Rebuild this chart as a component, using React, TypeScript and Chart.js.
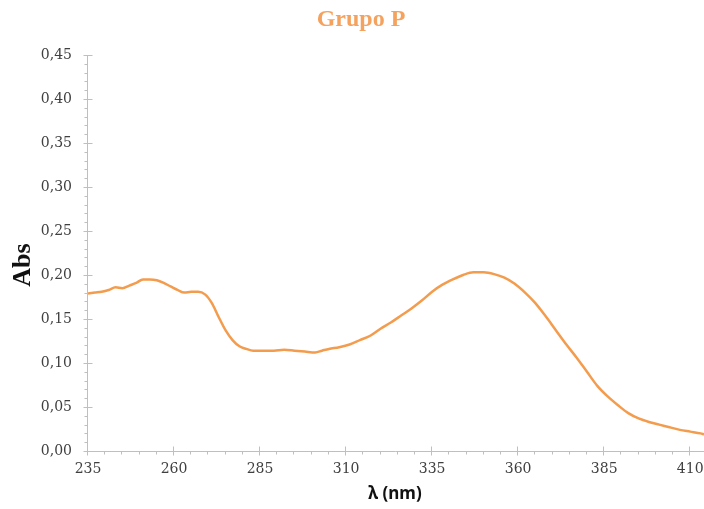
import React, { useEffect, useRef } from "react";
import { Chart, registerables } from "chart.js";

Chart.register(...registerables);

const chartTitle = "Grupo P";
const xTitle = "λ (nm)";
const yTitle = "Abs";

const wavelengths = [
  235, 237, 239, 241, 243, 245, 247, 249, 251, 253, 255, 257, 259, 261, 263, 265, 267, 269,
  271, 273, 275, 277, 279, 281, 283, 286, 289, 292, 295, 298, 301, 303, 305, 308, 311, 314,
  317, 320, 323, 326, 329, 332, 335, 338, 341, 344, 347, 350, 353, 356, 359, 362, 365, 368,
  371, 374, 377, 380, 383, 386, 389, 392, 395, 398, 401, 404, 407, 410, 413, 414,
];
const absorbance = [
  0.179, 0.18, 0.181, 0.183, 0.186, 0.185, 0.188, 0.191, 0.195, 0.195, 0.194, 0.191, 0.187,
  0.183, 0.18, 0.181, 0.181, 0.178, 0.168, 0.152, 0.137, 0.126, 0.119, 0.116, 0.114, 0.114,
  0.114, 0.115, 0.114, 0.113, 0.112, 0.114, 0.116, 0.118, 0.121, 0.126, 0.131, 0.139, 0.146,
  0.154, 0.162, 0.171, 0.181, 0.189, 0.195, 0.2, 0.203, 0.203, 0.201, 0.197, 0.19, 0.18,
  0.168, 0.153, 0.137, 0.121, 0.106, 0.09, 0.074, 0.062, 0.052, 0.043, 0.037, 0.033, 0.03,
  0.027, 0.024, 0.022, 0.02, 0.019,
];

const xTicks = [235, 260, 285, 310, 335, 360, 385, 410];
const xMin = 235;
const xMax = 414;
const xMinorStep = 5;
const yMin = 0;
const yMax = 0.45;
const yStep = 0.05;
const yMinorStep = 0.01;

const ORANGE = "#F39C4E";
const TITLE_ORANGE = "#F5A25E";
const AXIS = "#BFBFBF";

const axesPlugin = {
  id: "customAxes",
  afterDraw(chart: any) {
    const ctx = chart.ctx;
    const xs = chart.scales.x;
    const ys = chart.scales.y;
    const left = chart.chartArea.left;
    const bottom = chart.chartArea.bottom;
    const top = ys.getPixelForValue(yMax);
    const right = chart.chartArea.right;
    ctx.save();
    ctx.strokeStyle = AXIS;
    ctx.lineWidth = 1;
    const lx = Math.round(left) - 0.5;
    const by = Math.round(bottom) + 0.5;
    ctx.beginPath();
    ctx.moveTo(lx, top);
    ctx.lineTo(lx, by);
    ctx.lineTo(right, by);
    for (let i = 0; i <= Math.round((yMax - yMin) / yMinorStep); i++) {
      const v = yMin + i * yMinorStep;
      const py = Math.round(ys.getPixelForValue(v)) + 0.5;
      const major = i % Math.round(yStep / yMinorStep) === 0;
      if (major) {
        ctx.moveTo(lx - 4, py);
        ctx.lineTo(lx + 5, py);
      } else {
        ctx.moveTo(lx - 3, py);
        ctx.lineTo(lx, py);
      }
    }
    for (let v = xMin; v <= xMax + 1e-9; v += xMinorStep) {
      const px = Math.round(xs.getPixelForValue(v)) - 0.5;
      const major = xTicks.includes(v);
      if (major) {
        ctx.moveTo(px, by - 5);
        ctx.lineTo(px, by + 4);
      } else {
        ctx.moveTo(px, by);
        ctx.lineTo(px, by + 3);
      }
    }
    ctx.stroke();

    ctx.textAlign = "center";
    ctx.textBaseline = "middle";
    ctx.fillStyle = TITLE_ORANGE;
    ctx.font = "bold 24px 'Liberation Serif'";
    ctx.fillText(chartTitle, 361, 20);

    ctx.fillStyle = "#111111";
    ctx.font = "bold 17px 'Noto Sans'";
    ctx.fillText(xTitle, 395, 494);

    ctx.save();
    ctx.translate(23, 265);
    ctx.rotate(-Math.PI / 2);
    ctx.font = "bold 26px 'Liberation Serif'";
    ctx.fillText(yTitle, 0, 0);
    ctx.restore();
    ctx.restore();
  },
};

export default function App() {
  const ref = useRef<HTMLCanvasElement | null>(null);

  useEffect(() => {
    document.body.style.margin = "0";
    if (!ref.current) return;
    const chart = new Chart(ref.current, {
      type: "line",
      data: {
        datasets: [
          {
            data: wavelengths.map((w, i) => ({ x: w, y: absorbance[i] })),
            borderColor: ORANGE,
            borderWidth: 2.5,
            pointRadius: 0,
            fill: false,
            cubicInterpolationMode: "monotone",
          },
        ],
      },
      options: {
        animation: false,
        responsive: false,
        devicePixelRatio: 1,
        layout: { padding: { top: 55, right: 0, left: 0, bottom: 0 } },
        plugins: {
          legend: { display: false },
          title: { display: false },
          tooltip: { enabled: false },
        },
        scales: {
          x: {
            type: "linear",
            min: xMin,
            max: xMax,
            afterBuildTicks: (scale: any) => {
              scale.ticks = xTicks.map((v) => ({ value: v }));
            },
            afterFit: (scale: any) => {
              scale.height = 58;
              scale.paddingLeft = 0;
              scale.paddingRight = 0;
            },
            grid: { display: false, drawTicks: false },
            border: { display: false },
            ticks: {
              autoSkip: false,
              maxRotation: 0,
              padding: 10,
              color: "#404040",
              font: { family: "'DejaVu Serif'", size: 14 },
              callback: (v: any) => String(v),
            },
          },
          y: {
            min: yMin,
            max: yMax,
            afterFit: (scale: any) => {
              scale.width = 88;
              scale.paddingTop = 0;
              scale.paddingBottom = 0;
            },
            grid: { display: false, drawTicks: false },
            border: { display: false },
            ticks: {
              stepSize: yStep,
              padding: 16,
              color: "#404040",
              font: { family: "'DejaVu Serif'", size: 14 },
              callback: (v: any) => Number(v).toFixed(2).replace(".", ","),
            },
          },
        },
      },
      plugins: [axesPlugin],
    });
    return () => chart.destroy();
  }, []);

  return (
    <div style={{ width: 704, height: 509 }}>
      <canvas ref={ref} width={704} height={509} />
    </div>
  );
}
